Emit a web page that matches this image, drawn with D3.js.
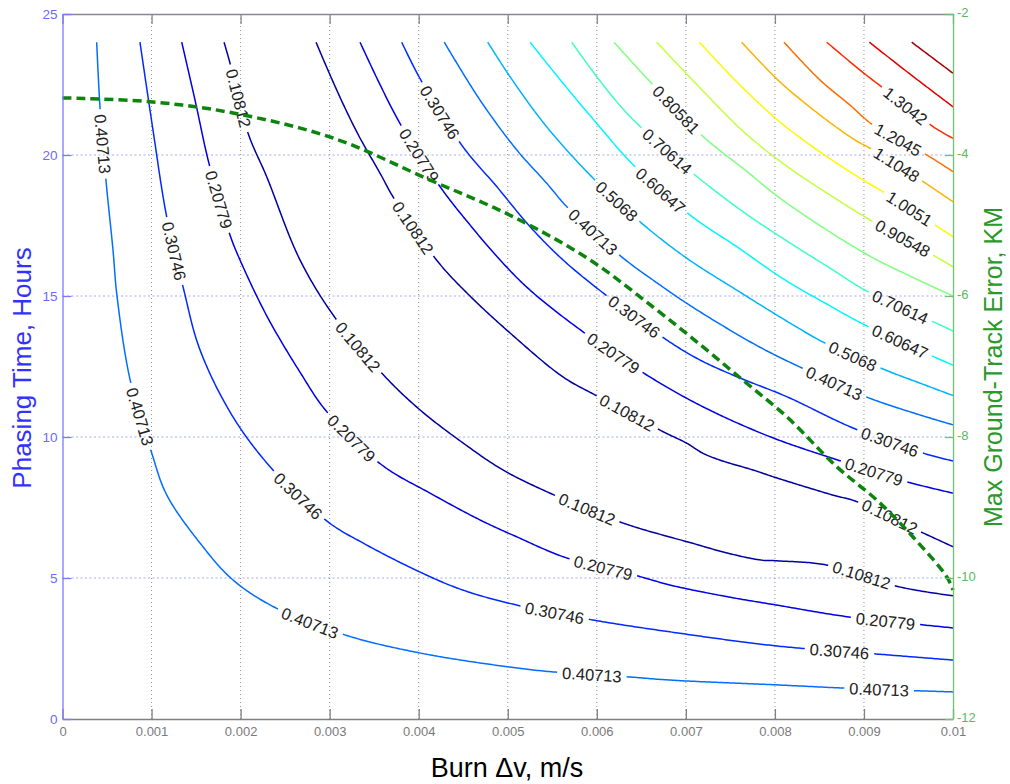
<!DOCTYPE html>
<html><head><meta charset="utf-8">
<script src="https://cdn.jsdelivr.net/npm/d3@7"></script>
<style>
body{margin:0;background:#fff}
svg{display:block}
text{font-family:"Liberation Sans",Arial,Helvetica,sans-serif}
.clab{font-size:16.5px;fill:#222;text-anchor:middle;dominant-baseline:central}
</style>
</head><body>
<svg id="c" width="1010" height="784"></svg>
<script>
// ---------- axes / ticks ----------
const xTicks = [0,0.001,0.002,0.003,0.004,0.005,0.006,0.007,0.008,0.009,0.01];
const xTickLabels = ["0","0.001","0.002","0.003","0.004","0.005","0.006","0.007","0.008","0.009","0.01"];
const yTicks = [0,5,10,15,20,25];
const yTickLabels = ["0","5","10","15","20","25"];
const y2Ticks = [-12,-10,-8,-6,-4,-2];
const y2TickLabels = ["-12","-10","-8","-6","-4","-2"];

// ---------- contour levels ----------
const levels = [0.10812,0.20779,0.30746,0.40713,0.5068,0.60647,0.70614,0.80581,0.90548,1.0051,1.1048,1.2045,1.3042,1.4039,1.5036];
const levelLabels = ["0.10812","0.20779","0.30746","0.40713","0.5068","0.60647","0.70614","0.80581","0.90548","1.0051","1.1048","1.2045","1.3042","1.4039","1.5036"];

// ---------- contour lines [burn dv (m/s), phasing time (h)] ----------
const c01L = [[1.814e-3,24.0],[1.881e-3,23.26],[2.083e-3,20.78],[2.293e-3,19.23],[2.667e-3,16.28],[3.079e-3,14.15],[3.622e-3,12.14],[4.015e-3,10.96],[4.497e-3,9.79],[4.947e-3,8.83],[5.474e-3,8.01],[6.294e-3,6.95],[6.822e-3,6.45],[7.010e-3,6.29],[7.459e-3,5.89],[7.833e-3,5.64],[8.020e-3,5.61],[8.582e-3,5.46],[9.405e-3,4.68],[1.0e-2,4.37]];
const c02L = [[1.339e-3,24.0],[1.488e-3,21.95],[1.649e-3,19.65],[1.881e-3,17.16],[1.993e-3,16.28],[2.293e-3,14.3],[2.667e-3,12.3],[2.967e-3,10.90],[3.585e-3,9.01],[4.127e-3,8.01],[4.688e-3,7.06],[5.101e-3,6.46],[5.662e-3,5.71],[6.485e-3,5.05],[6.822e-3,4.75],[7.459e-3,4.34],[8.020e-3,4.04],[8.806e-3,3.63],[9.686e-3,3.33],[1.0e-2,3.23]];
const c03L = [[8.70e-4,24.0],[1.016e-3,20.89],[1.170e-3,17.81],[1.357e-3,15.28],[1.544e-3,13.09],[1.915e-3,10.71],[2.364e-3,8.83],[2.981e-3,6.99],[3.375e-3,6.24],[4.015e-3,5.21],[4.497e-3,4.57],[5.101e-3,4.04],[5.957e-3,3.51],[6.822e-3,3.09],[8.020e-3,2.59],[9.158e-3,2.30],[1.0e-2,2.09]];
const c04L = [[3.84e-4,24.0],[4.21e-4,21.70],[4.88e-4,19.11],[5.67e-4,16.63],[6.12e-4,15.0],[7.60e-4,12.02],[1.002e-3,9.43],[1.170e-3,7.95],[1.544e-3,6.24],[1.915e-3,4.93],[2.394e-3,3.94],[3.172e-3,2.98],[4.015e-3,2.34],[5.025e-3,1.84],[5.508e-3,1.67],[6.373e-3,1.49],[6.822e-3,1.38],[8.020e-3,1.21],[8.750e-3,1.10],[9.607e-3,1.00],[1.0e-2,0.96]];
const c01R = [[2.847e-3,24.0],[3.004e-3,22.84],[3.172e-3,21.67],[3.341e-3,20.60],[3.565e-3,19.36],[3.734e-3,18.40],[4.217e-3,16.21],[4.576e-3,15.0],[5.025e-3,13.69],[5.620e-3,12.13],[5.980e-3,11.49],[6.743e-3,10.19],[7.010e-3,9.78],[7.193e-3,9.42],[7.383e-3,9.18],[7.754e-3,8.83],[8.020e-3,8.55],[8.652e-3,7.94],[8.919e-3,7.71],[9.663e-3,6.60],[1.0e-2,6.11]];
const c02R = [[3.341e-3,24.0],[3.565e-3,22.5],[3.790e-3,21.12],[4.239e-3,18.88],[4.576e-3,17.52],[4.913e-3,16.28],[5.250e-3,15.21],[5.845e-3,13.73],[6.560e-3,12.20],[7.193e-3,11.07],[7.945e-3,10.01],[8.709e-3,9.18],[9.495e-3,8.40],[1.0e-2,8.01]];
const c03R = [[3.809e-3,24.0],[4.034e-3,22.60],[4.497e-3,20.29],[4.876e-3,18.88],[5.250e-3,17.46],[5.620e-3,16.28],[6.070e-3,15.11],[6.785e-3,13.44],[7.159e-3,12.73],[7.571e-3,12.14],[8.133e-3,11.43],[8.877e-3,10.32],[9.663e-3,9.43],[1.0e-2,9.15]];
const c04R = [[4.287e-3,24.0],[4.688e-3,21.95],[5.101e-3,20.18],[5.437e-3,19.00],[5.680e-3,18.11],[6.298e-3,16.34],[6.710e-3,15.39],[7.010e-3,14.74],[7.496e-3,13.79],[7.870e-3,13.12],[8.282e-3,12.48],[9.068e-3,11.37],[1.0e-2,10.43]];
const c05 = [[4.775e-3,24.0],[5.025e-3,22.78],[5.437e-3,21.00],[5.980e-3,19.11],[6.504e-3,17.58],[7.010e-3,16.34],[7.571e-3,15.21],[8.170e-3,14.04],[8.563e-3,13.33],[9.237e-3,12.38],[9.630e-3,11.91],[1.0e-2,11.47]];
const c06 = [[5.250e-3,24.0],[5.609e-3,22.59],[5.999e-3,21.12],[6.410e-3,19.65],[7.047e-3,17.87],[7.571e-3,16.75],[8.113e-3,15.57],[8.563e-3,14.75],[9.012e-3,13.97],[9.817e-3,12.80],[1.0e-2,12.55]];
const c07 = [[5.718e-3,24.0],[5.999e-3,22.78],[6.283e-3,21.67],[6.541e-3,20.85],[7.103e-3,19.29],[7.664e-3,17.94],[8.170e-3,16.88],[8.619e-3,15.99],[9.012e-3,15.21],[9.817e-3,14.03],[1.0e-2,13.76]];
const c08 = [[6.193e-3,24.0],[6.373e-3,23.37],[6.616e-3,22.54],[7.196e-3,20.65],[7.664e-3,19.47],[8.113e-3,18.34],[9.012e-3,16.51],[9.536e-3,15.68],[1.0e-2,15.0]];
const c09 = [[6.673e-3,24.0],[7.159e-3,22.38],[7.664e-3,20.78],[8.113e-3,19.65],[8.619e-3,18.58],[9.068e-3,17.70],[9.832e-3,16.35],[1.0e-2,16.03]];
const c10 = [[7.151e-3,24.0],[7.608e-3,22.48],[8.057e-3,21.17],[8.506e-3,20.11],[8.956e-3,19.18],[9.237e-3,18.65],[9.832e-3,17.45],[1.0e-2,17.10]];
const c11 = [[7.627e-3,24.0],[8.057e-3,22.59],[8.506e-3,21.42],[8.900e-3,20.53],[9.102e-3,20.18],[9.667e-3,19.05],[1.0e-2,18.34]];
const c12 = [[8.102e-3,24.0],[8.506e-3,22.66],[8.843e-3,21.77],[9.102e-3,21.06],[9.705e-3,20.0],[1.0e-2,19.41]];
const c13 = [[8.582e-3,24.0],[8.956e-3,23.01],[9.217e-3,22.37],[9.779e-3,21.00],[1.0e-2,20.59]];
const c14 = [[9.060e-3,24.0],[9.517e-3,22.87],[1.0e-2,21.71]];
const c15 = [[9.536e-3,24.0],[1.0e-2,22.90]];

// ---------- inline label spots [dv, hours] ----------
const lab01L = [[1.982e-3,22.02],[3.262e-3,13.09],[5.867e-3,7.34],[8.978e-3,5.07]];
const lab02L = [[1.746e-3,18.40],[3.240e-3,9.89],[6.070e-3,5.39],[9.248e-3,3.48]];
const lab03L = [[1.252e-3,16.56],[2.633e-3,7.91],[5.531e-3,3.79],[8.731e-3,2.41]];
const lab04L = [[4.55e-4,20.43],[8.82e-4,10.74],[2.779e-3,3.37],[5.946e-3,1.56],[9.180e-3,1.06]];
const lab01R = [[3.891e-3,17.34],[6.328e-3,10.74],[9.293e-3,7.13]];
const lab02R = [[3.958e-3,19.93],[6.171e-3,12.87],[9.102e-3,8.72]];
const lab03R = [[4.217e-3,21.45],[6.395e-3,14.15],[9.270e-3,9.72]];
const lab04R = [[5.957e-3,17.23],[8.652e-3,11.77]];
const lab05 = [[6.182e-3,18.26],[8.877e-3,12.80]];
const lab06 = [[6.710e-3,18.76],[9.394e-3,13.26]];
const lab07 = [[6.788e-3,20.11],[9.382e-3,14.50]];
const lab08 = [[6.901e-3,21.60]];
const lab09 = [[9.416e-3,16.99]];
const lab10 = [[9.495e-3,18.01]];
const lab11 = [[9.349e-3,19.54]];
const lab12 = [[9.371e-3,20.46]];
const lab13 = [[9.461e-3,21.67]];

// ---------- max ground-track error (right axis) ----------
const errDv = [0,0.983e-3,1.915e-3,3.038e-3,4.127e-3,5.059e-3,5.924e-3,6.631e-3,7.193e-3,7.683e-3,8.133e-3,8.694e-3,9.143e-3,9.551e-3,9.929e-3,1.0e-2];
const errKm = [-3.19,-3.244,-3.404,-3.759,-4.355,-4.875,-5.489,-6.156,-6.723,-7.238,-7.712,-8.421,-8.894,-9.418,-9.982,-10.17];

const contours = [
  {lvl:0,pts:c01L,labels:lab01L},{lvl:1,pts:c02L,labels:lab02L},{lvl:2,pts:c03L,labels:lab03L},{lvl:3,pts:c04L,labels:lab04L},
  {lvl:0,pts:c01R,labels:lab01R},{lvl:1,pts:c02R,labels:lab02R},{lvl:2,pts:c03R,labels:lab03R},{lvl:3,pts:c04R,labels:lab04R},
  {lvl:4,pts:c05,labels:lab05},{lvl:5,pts:c06,labels:lab06},{lvl:6,pts:c07,labels:lab07},{lvl:7,pts:c08,labels:lab08},
  {lvl:8,pts:c09,labels:lab09},{lvl:9,pts:c10,labels:lab10},{lvl:10,pts:c11,labels:lab11},{lvl:11,pts:c12,labels:lab12},
  {lvl:12,pts:c13,labels:lab13},{lvl:13,pts:c14,labels:[]},{lvl:14,pts:c15,labels:[]}
];

// ---------- drawing ----------
const svg = d3.select('#c');
svg.append('rect').attr('width',1010).attr('height',784).attr('fill','#fff');
const x = d3.scaleLinear().domain([0,0.01]).range([62.5,953]);
const y = d3.scaleLinear().domain([0,25]).range([719,14]);
const y2 = d3.scaleLinear().domain([-12,-2]).range([719,14]);

// grid
const grid = svg.append('g');
grid.selectAll('line.gx').data(xTicks.slice(1,-1)).join('line').attr('class','gx')
  .attr('x1',d=>x(d)).attr('x2',d=>x(d)).attr('y1',y(0)).attr('y2',y(25))
  .attr('stroke','#8f8f8f').attr('stroke-width',1).attr('stroke-dasharray','1,3');
grid.selectAll('line.gy').data(yTicks.slice(1,-1)).join('line').attr('class','gy')
  .attr('x1',x(0)).attr('x2',x(0.01)).attr('y1',d=>y(d)).attr('y2',d=>y(d))
  .attr('stroke','#a8a8ff').attr('stroke-width',1).attr('stroke-dasharray','2,2.5');

function jet(t){
  const c=v=>Math.max(0,Math.min(1,v));
  return d3.rgb(255*c(1.5-Math.abs(4*t-3)),255*c(1.5-Math.abs(4*t-2)),255*c(1.5-Math.abs(4*t-1))).formatHex();
}
const smooth = d3.line().x(d=>x(d[0])).y(d=>y(d[1])).curve(d3.curveCatmullRom.alpha(0.5));
const straight = d3.line().x(d=>d[0]).y(d=>d[1]);
const cg = svg.append('g');
const lg = svg.append('g');
const gapPad = 5;

contours.forEach(c=>{
  const col = jet((c.lvl+0.5)/levels.length);
  const tmp = cg.append('path').attr('d',smooth(c.pts)).attr('fill','none').attr('stroke','none');
  const node = tmp.node();
  const L = node.getTotalLength();
  const at = s=>node.getPointAtLength(Math.max(0,Math.min(L,s)));
  const N = Math.max(2,Math.ceil(L/2));
  const samples = d3.range(N+1).map(i=>{const s=i*L/N;const p=at(s);return {s:s,x:p.x,y:p.y};});
  const gaps = [];
  c.labels.forEach(lb=>{
    const tx=x(lb[0]), ty=y(lb[1]);
    const best = d3.least(samples,p=>(p.x-tx)*(p.x-tx)+(p.y-ty)*(p.y-ty));
    const t = lg.append('text').attr('class','clab').text(levelLabels[c.lvl]);
    const w = t.node().getComputedTextLength();
    const s = best.s;
    const p0=at(s-w/2), p1=at(s+w/2), pc=at(s);
    let ang = Math.atan2(p1.y-p0.y,p1.x-p0.x)*180/Math.PI;
    if(ang>90) ang-=180; if(ang<-90) ang+=180;
    t.attr('transform',`translate(${pc.x},${pc.y}) rotate(${ang})`);
    gaps.push([s-w/2-gapPad,s+w/2+gapPad]);
  });
  gaps.sort((a,b)=>a[0]-b[0]);
  let start=0; const runs=[];
  gaps.forEach(g=>{ if(g[0]>start) runs.push([start,g[0]]); start=Math.max(start,g[1]); });
  if(start<L) runs.push([start,L]);
  runs.forEach(r=>{
    const n=Math.max(2,Math.ceil((r[1]-r[0])/2));
    const pts=d3.range(n+1).map(i=>{const p=at(r[0]+(r[1]-r[0])*i/n);return [p.x,p.y];});
    cg.append('path').attr('d',straight(pts)).attr('fill','none').attr('stroke',col).attr('stroke-width',1.5).attr('stroke-linejoin','round');
  });
  tmp.remove();
});

// dashed error curve
const errLine = d3.line().x((d,i)=>x(errDv[i])).y((d,i)=>y2(errKm[i])).curve(d3.curveCatmullRom.alpha(0.5));
svg.append('path').attr('d',errLine(errDv)).attr('fill','none').attr('stroke','#0d840d')
  .attr('stroke-width',3.5).attr('stroke-dasharray','9,5');

// axes
const FONT = '"Liberation Sans",Arial,Helvetica,sans-serif';
function style(g,lineCol,textCol,size){
  g.attr('font-family',FONT).attr('font-size',size);
  g.selectAll('path,line').attr('stroke',lineCol).attr('stroke-width',1.3);
  g.selectAll('text').attr('fill',textCol);
}
const axB = svg.append('g').attr('transform',`translate(0,${y(0)})`)
  .call(d3.axisBottom(x).tickValues(xTicks).tickFormat((d,i)=>xTickLabels[i]).tickSizeInner(-10).tickSizeOuter(0).tickPadding(8));
style(axB,'#808080','#7a7a7a',13);
const axT = svg.append('g').attr('transform',`translate(0,${y(25)})`)
  .call(d3.axisTop(x).tickValues(xTicks).tickFormat('').tickSizeInner(-10).tickSizeOuter(0));
style(axT,'#85859c','#7a7a7a',13);
const axL = svg.append('g').attr('transform',`translate(${x(0)},0)`)
  .call(d3.axisLeft(y).tickValues(yTicks).tickFormat((d,i)=>yTickLabels[i]).tickSizeInner(-9).tickSizeOuter(0).tickPadding(5));
style(axL,'#7a7aff','#6a6aff',13.5);
const axR = svg.append('g').attr('transform',`translate(${x(0.01)},0)`)
  .call(d3.axisRight(y2).tickValues(y2Ticks).tickFormat((d,i)=>y2TickLabels[i]).tickSizeInner(-8).tickSizeOuter(0).tickPadding(4));
style(axR,'#72c072','#5cb85c',13);
axR.selectAll('text').attr('dy','0.2em');

// titles
svg.append('text').attr('transform','translate(31,368) rotate(-90)').attr('text-anchor','middle')
  .attr('font-size',26).attr('fill','#3232ff').text('Phasing Time, Hours');
svg.append('text').attr('transform','translate(1002,367) rotate(-90)').attr('text-anchor','middle')
  .attr('font-size',25).attr('fill','#2a992a').text('Max Ground-Track Error, KM');
svg.append('text').attr('x',507).attr('y',777).attr('text-anchor','middle')
  .attr('font-size',27).attr('fill','#000').text('Burn \u0394v, m/s');
</script>
</body></html>
